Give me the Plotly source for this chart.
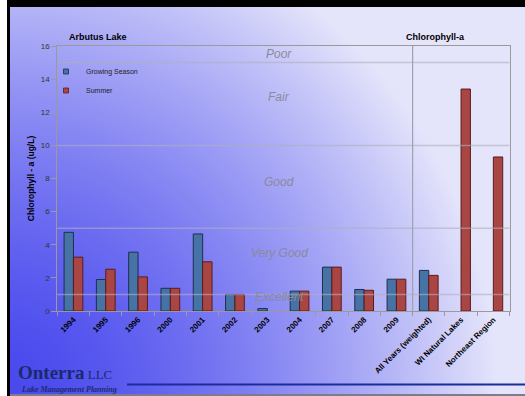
import base64
import struct
import zlib

import numpy as np
import plotly.graph_objects as go

# ---- data -------------------------------------------------------------
categories = [
    "1994", "1995", "1996", "2000", "2001", "2002", "2003", "2004",
    "2007", "2008", "2009", "All Years (weighted)", "WI Natural Lakes",
    "Northeast Region",
]
growing_season = [4.75, 1.9, 3.55, 1.37, 4.65, 1.0, 0.15, 1.2, 2.65, 1.3, 1.92, 2.45, None, None]
summer = [3.25, 2.52, 2.06, 1.37, 2.97, 1.0, None, 1.2, 2.65, 1.25, 1.92, 2.15, 13.4, 9.3]

# trophic class boundaries (ug/L) and their names, low to high
class_bounds = [1, 5, 10, 15]
class_names = ["Excellent", "Very Good", "Good", "Fair", "Poor"]

W, H = 525, 396
FONT = "Liberation Sans, Arial, sans-serif"
SERIF = "Liberation Serif, Times New Roman, serif"
BLUE, BLUE_EDGE = "#4672a6", "#1d2f4e"
RED, RED_EDGE = "#a94644", "#5a1c1c"


def png_data_uri(rgb):
    """Encode an HxWx3 uint8 array as a PNG data URI (no imaging library needed)."""
    h, w, _ = rgb.shape
    raw = b"".join(b"\x00" + rgb[i].tobytes() for i in range(h))

    def chunk(tag, payload):
        body = tag + payload
        return struct.pack(">I", len(payload)) + body + struct.pack(">I", zlib.crc32(body) & 0xFFFFFFFF)

    png = (b"\x89PNG\r\n\x1a\n"
           + chunk(b"IHDR", struct.pack(">IIBBBBB", w, h, 8, 2, 0, 0, 0))
           + chunk(b"IDAT", zlib.compress(raw, 9))
           + chunk(b"IEND", b""))
    return "data:image/png;base64," + base64.b64encode(png).decode()


# slide background: deep blue in the lower-left fading to pale lavender
u = np.linspace(0, 1, W)[None, :]
v = 1 - np.linspace(0, 1, H)[:, None]
dist = np.sqrt((1.2 * u) ** 2 + (0.9 * v) ** 2)
g = np.clip(0.88 * dist, 0, 1) ** 1.5
dark = np.array([72, 72, 238], dtype=float)
light = np.array([228, 228, 251], dtype=float)
bg = (dark + (light - dark) * g[..., None]).round().astype(np.uint8)

fig = go.Figure()
fig.add_trace(go.Bar(
    x=categories, y=growing_season, name="Growing Season", showlegend=False,
    marker=dict(color=BLUE, line=dict(color=BLUE_EDGE, width=1)),
))
fig.add_trace(go.Bar(
    x=categories, y=summer, name="Summer", showlegend=False,
    marker=dict(color=RED, line=dict(color=RED_EDGE, width=1)),
))
# compact legend keys
for name, col, edge in [("Growing Season", BLUE, BLUE_EDGE), ("Summer", RED, RED_EDGE)]:
    fig.add_trace(go.Scatter(
        x=[None], y=[None], mode="markers", name=name,
        marker=dict(symbol="square", size=5, color=col, line=dict(color=edge, width=0.8)),
    ))

x_dom = [57.3 / W, 509.5 / W]
y_dom = [1 - 311 / H, 1 - 46 / H]

shapes = []
# trophic class boundary lines
for b in class_bounds:
    shapes.append(dict(type="line", xref="x domain", yref="y", x0=0, x1=1, y0=b, y1=b,
                       line=dict(color="rgba(175,175,190,0.6)", width=1.5), layer="above"))
# divider between lake years and the reference values
shapes.append(dict(type="line", xref="x", yref="y", x0=10.5, x1=10.5, y0=0, y1=16,
                   line=dict(color="#a2a2ae", width=1.2), layer="above"))
# slide frame
shapes += [
    dict(type="rect", xref="paper", yref="paper", x0=0, x1=7 / W, y0=0, y1=1,
         fillcolor="white", line=dict(width=0)),
    dict(type="rect", xref="paper", yref="paper", x0=7 / W, x1=10 / W, y0=0, y1=1,
         fillcolor="black", line=dict(width=0)),
    dict(type="rect", xref="paper", yref="paper", x0=7 / W, x1=1, y0=1 - 7 / H, y1=1,
         fillcolor="black", line=dict(width=0)),
    dict(type="rect", xref="paper", yref="paper", x0=10 / W, x1=1, y0=0, y1=2 / H,
         fillcolor="#7c7c8c", line=dict(width=0)),
    dict(type="line", xref="paper", yref="paper", x0=127 / W, x1=1, y0=1 - 384.5 / H, y1=1 - 384.5 / H,
         line=dict(color="#1a2d99", width=2)),
]

annotations = []
class_label_y = {"Excellent": 0.85, "Very Good": 3.5, "Good": 7.8, "Fair": 12.9, "Poor": 15.5}
for nm in class_names:
    annotations.append(dict(
        text=nm, xref="paper", yref="y", x=279 / W, y=class_label_y[nm],
        showarrow=False, xanchor="center", yanchor="middle",
        font=dict(family=FONT, size=12, color="#8a8a9a", style="italic"),
    ))
annotations += [
    dict(text="Arbutus Lake", xref="paper", yref="paper", x=66.5 / W, y=1 - 37 / H,
         xanchor="left", yanchor="middle", showarrow=False,
         font=dict(family=FONT, size=9, color="black", weight="bold")),
    dict(text="Chlorophyll-a", xref="paper", yref="paper", x=404 / W, y=1 - 37 / H,
         xanchor="left", yanchor="middle", showarrow=False,
         font=dict(family=FONT, size=9, color="black", weight="bold")),
    dict(text="Onterra<span style='font-size:13px;font-weight:normal'> LLC</span>",
         xref="paper", yref="paper", x=16 / W, y=1 - 372 / H,
         xanchor="left", yanchor="middle", showarrow=False,
         font=dict(family=SERIF, size=19, color="#1b2a6b", weight="bold")),
    dict(text="Lake Management Planning", xref="paper", yref="paper",
         x=19 / W, y=1 - 389.5 / H, xanchor="left", yanchor="middle", showarrow=False,
         font=dict(family=SERIF, size=8, color="#1b2a6b", weight="bold", style="italic")),
]

fig.update_layout(
    width=W, height=H, autosize=False,
    margin=dict(l=0, r=0, t=0, b=0, pad=0),
    paper_bgcolor="rgba(0,0,0,0)", plot_bgcolor="rgba(0,0,0,0)",
    barmode="group", bargap=0.42, bargroupgap=0,
    font=dict(family=FONT, color="#222222"),
    images=[dict(source=png_data_uri(bg), xref="paper", yref="paper", x=0, y=1,
                 sizex=1, sizey=1, xanchor="left", yanchor="top",
                 sizing="stretch", layer="below")],
    xaxis=dict(
        domain=x_dom, type="category", tickangle=-45, tickson="boundaries",
        ticks="outside", ticklen=4, tickcolor="#9a9a9a", automargin=False,
        showline=True, linecolor="#9a9a9a", linewidth=1, mirror=True,
        showgrid=False, tickfont=dict(family=FONT, size=8, color="black", weight="bold"),
    ),
    yaxis=dict(
        domain=y_dom, range=[0, 16], dtick=2, ticks="outside", ticklen=5,
        tickcolor="#9a9a9a", showline=True, linecolor="#9a9a9a", linewidth=1,
        mirror=True, showgrid=False, zeroline=False, automargin=False,
        tickfont=dict(family=FONT, size=8, color="#333333"),
        title=dict(text="Chlorophyll - a (ug/L)", standoff=4,
                   font=dict(family=FONT, size=8.5, color="black", weight="bold")),
    ),
    legend=dict(x=46 / W, y=1 - 57 / H, xanchor="left", yanchor="top",
                bgcolor="rgba(0,0,0,0)", font=dict(family=FONT, size=7, color="#222222"),
                tracegroupgap=0),
    shapes=shapes, annotations=annotations,
)

fig.write_html("out.html")
